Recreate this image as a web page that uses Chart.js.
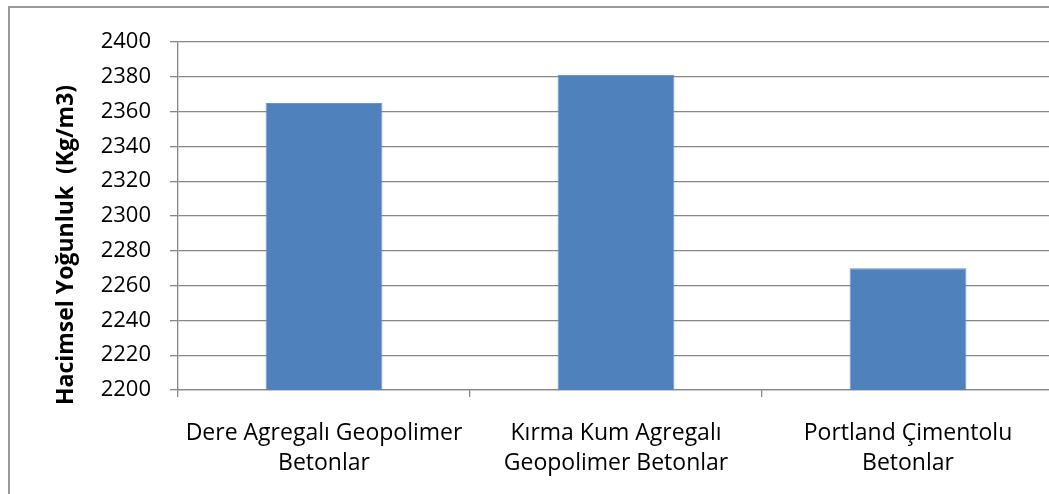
<!DOCTYPE html>
<html>
<head>
<meta charset="utf-8">
<script src="https://cdn.jsdelivr.net/npm/chart.js@4/dist/chart.umd.min.js"></script>
<style>
  html, body { margin: 0; padding: 0; background: #fff; overflow: hidden; }
  #frame { position: absolute; left: 8px; top: 6px; width: 1100px; height: 600px;
           border-left: 2px solid #9a9a9a; border-top: 2px solid #9a9a9a; }
  #wrap { position: absolute; left: 0; top: 0; width: 1060px; height: 494px; }
</style>
</head>
<body>
<div id="frame"></div>
<div id="wrap"><canvas id="grafico"></canvas></div>
<script>
  // --- Datos ---
  const categorias = [
    ['Dere Agregalı Geopolimer', 'Betonlar'],
    ['Kırma Kum Agregalı', 'Geopolimer Betonlar'],
    ['Portland Çimentolu', 'Betonlar']
  ];
  const densidad = [2365, 2381, 2270];
  const ejeY = { min: 2200, max: 2400, paso: 20 };
  const tituloY = 'Hacimsel Yoğunluk  (Kg/m3)';

  const GRIS = '#878787';
  const FUENTE = "'Open Sans', 'Noto Sans', sans-serif";

  // titulo del eje Y dibujado a mano (desplazado como en el original)
  const tituloEje = {
    id: 'tituloEje',
    afterDraw(chart) {
      const ctx = chart.ctx;
      ctx.save();
      ctx.translate(66, 245);
      ctx.rotate(-Math.PI / 2);
      ctx.font = 'bold 23px ' + FUENTE;
      ctx.fillStyle = '#000';
      ctx.textAlign = 'center';
      ctx.textBaseline = 'middle';
      ctx.fillText(tituloY, 0, 0);
      ctx.restore();
    }
  };

  new Chart(document.getElementById('grafico'), {
    type: 'bar',
    data: {
      labels: categorias,
      datasets: [{
        data: densidad,
        backgroundColor: '#4F81BD',
        borderColor: '#6F95C8',
        borderWidth: 1,
        barPercentage: 0.4,
        categoryPercentage: 1
      }]
    },
    options: {
      responsive: true,
      maintainAspectRatio: false,
      animation: false,
      layout: { padding: { top: 42, right: 6, left: 0, bottom: 0 } },
      plugins: { legend: { display: false }, tooltip: { enabled: false } },
      scales: {
        x: {
          offset: true,
          grid: { offset: true, drawOnChartArea: false, tickLength: 7, color: GRIS, lineWidth: 1.3 },
          border: { color: GRIS, width: 1.3 },
          ticks: { color: '#000', font: { family: FUENTE, size: 23, lineHeight: 1.3 }, padding: 22, maxRotation: 0 },
          afterFit(s) { s.height = 104; }
        },
        y: {
          min: ejeY.min,
          max: ejeY.max,
          grid: { color: GRIS, lineWidth: 1.3, tickLength: 8 },
          border: { color: GRIS, width: 1.3 },
          ticks: { stepSize: ejeY.paso, color: '#000', font: { family: FUENTE, size: 22 }, padding: 19,
                   callback: v => String(v) },
          afterFit(s) { s.width = 178; }
        }
      }
    },
    plugins: [tituloEje]
  });
</script>
</body>
</html>
